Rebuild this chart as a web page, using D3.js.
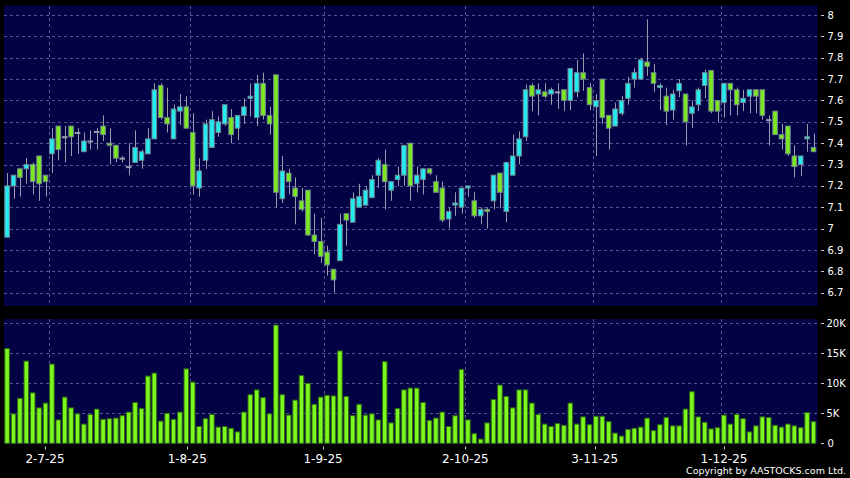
<!DOCTYPE html>
<html>
<head>
<meta charset="utf-8">
<script src="https://cdn.jsdelivr.net/npm/d3@7"></script>
<style>
  body { margin: 0; background: #000; }
  svg { display: block; }
  text { font-family: "DejaVu Sans", sans-serif; fill: #fff; }
</style>
</head>
<body>
<div id="chart"></div>
<script>
////////////////////////////////////////////////////////////////////////
// Data (daily candles, 20-6-25 .. 19-12-25)

let open = [6.96,7.20,7.28,7.28,7.30,7.34,7.25,7.35,7.48,7.43,7.48,7.45,7.36,7.41,7.455,7.48,7.40,7.39,7.33,7.29,
  7.31,7.32,7.35,7.42,7.67,7.52,7.42,7.55,7.57,7.45,7.19,7.32,7.38,7.45,7.49,7.52,7.47,7.53,7.61,7.52,
  7.68,7.53,7.72,7.14,7.26,7.19,7.13,7.18,6.97,6.94,6.89,6.81,6.85,7.07,7.03,7.10,7.11,7.145,7.25,7.30,
  7.18,7.23,7.25,7.40,7.21,7.23,7.28,7.22,7.19,7.045,7.11,7.10,7.19,7.13,7.06,7.09,7.13,7.26,7.08,7.25,
  7.34,7.43,7.67,7.63,7.64,7.63,7.64,7.65,7.60,7.64,7.73,7.66,7.57,7.70,7.53,7.48,7.54,7.61,7.70,7.70,
  7.78,7.73,7.66,7.62,7.555,7.645,7.63,7.54,7.58,7.67,7.74,7.60,7.59,7.68,7.65,7.59,7.62,7.65,7.65,7.51,
  7.55,7.44,7.48,7.34,7.30,7.42,7.38];
let high = [7.26,7.25,7.28,7.33,7.31,7.34,7.25,7.47,7.48,7.48,7.48,7.47,7.45,7.46,7.47,7.53,7.47,7.39,7.34,7.40,
  7.46,7.37,7.47,7.68,7.68,7.66,7.58,7.63,7.62,7.54,7.33,7.51,7.55,7.525,7.58,7.56,7.53,7.61,7.68,7.72,
  7.73,7.57,7.72,7.34,7.28,7.24,7.19,7.18,7.07,7.05,6.92,6.81,7.07,7.07,7.17,7.21,7.20,7.25,7.33,7.37,
  7.22,7.29,7.39,7.40,7.29,7.28,7.28,7.25,7.22,7.10,7.17,7.19,7.20,7.17,7.10,7.10,7.25,7.26,7.31,7.44,
  7.455,7.675,7.68,7.68,7.68,7.66,7.68,7.65,7.75,7.79,7.82,7.68,7.63,7.70,7.53,7.59,7.62,7.71,7.75,7.80,
  7.98,7.77,7.68,7.66,7.65,7.70,7.63,7.60,7.66,7.745,7.74,7.60,7.68,7.68,7.66,7.65,7.65,7.65,7.65,7.53,
  7.55,7.49,7.48,7.39,7.34,7.49,7.445];
let low = [6.96,7.14,7.15,7.21,7.16,7.13,7.15,7.26,7.32,7.31,7.34,7.35,7.36,7.37,7.37,7.41,7.30,7.31,7.31,7.25,
  7.31,7.28,7.35,7.42,7.51,7.45,7.42,7.485,7.47,7.16,7.15,7.28,7.38,7.43,7.48,7.40,7.415,7.49,7.525,7.48,
  7.51,7.44,7.10,7.12,7.16,7.02,7.08,6.965,6.88,6.84,6.78,6.70,6.85,6.92,7.03,7.10,7.11,7.145,7.19,7.09,
  7.13,7.20,7.20,7.13,7.17,7.16,7.25,7.17,7.03,7.00,7.06,7.07,7.15,7.05,7.02,7.00,7.09,7.095,7.03,7.25,
  7.30,7.41,7.55,7.53,7.61,7.58,7.56,7.55,7.555,7.615,7.645,7.555,7.34,7.49,7.37,7.48,7.53,7.58,7.66,7.70,
  7.715,7.64,7.555,7.485,7.51,7.615,7.39,7.47,7.55,7.61,7.54,7.50,7.52,7.53,7.53,7.55,7.54,7.54,7.51,7.39,
  7.44,7.37,7.34,7.24,7.245,7.36,7.36];
let close = [7.20,7.25,7.24,7.30,7.22,7.21,7.22,7.42,7.37,7.43,7.43,7.45,7.41,7.41,7.455,7.44,7.39,7.33,7.33,7.29,
  7.38,7.36,7.42,7.65,7.52,7.49,7.56,7.57,7.47,7.20,7.27,7.49,7.51,7.50,7.58,7.44,7.53,7.57,7.62,7.68,
  7.53,7.49,7.17,7.27,7.22,7.15,7.09,6.97,6.94,6.87,6.83,6.76,7.02,7.04,7.14,7.15,7.18,7.23,7.32,7.22,
  7.22,7.25,7.39,7.20,7.25,7.28,7.26,7.17,7.04,7.08,7.12,7.19,7.20,7.06,7.09,7.08,7.25,7.17,7.31,7.34,
  7.42,7.65,7.62,7.65,7.62,7.65,7.64,7.60,7.75,7.73,7.70,7.58,7.60,7.52,7.47,7.56,7.60,7.68,7.73,7.79,
  7.76,7.68,7.67,7.55,7.63,7.68,7.50,7.57,7.65,7.73,7.55,7.55,7.68,7.65,7.58,7.61,7.65,7.62,7.53,7.51,
  7.44,7.42,7.35,7.29,7.34,7.43,7.36];
let volume = [15800,4900,7500,13700,8400,5900,6700,13200,3900,7700,5900,4900,3200,4800,5700,4000,4100,4200,4600,5200,
  6800,5800,11200,11700,3700,5000,4000,5200,12400,10200,2800,4100,4800,2700,2800,2500,1900,5200,8100,8900,
  7600,4900,19700,8100,4700,7200,11300,10000,6500,7700,8000,7900,15400,7800,4600,6500,4700,4900,3900,13600,
  3400,5800,8900,9200,9200,6800,3800,4200,5200,2800,4600,12300,3900,1600,700,3400,7300,9700,7800,5900,
  8900,8900,6700,4800,3200,2800,3300,3000,6700,3200,4400,3100,4500,4500,3600,1700,1200,2300,2500,2700,
  4200,2100,3100,4300,2900,2900,5700,8600,4400,3500,2400,2600,4700,3200,4800,4100,1900,2900,4400,4300,
  3000,2700,3200,2900,2600,5100,3600];

// month-start labels: index of the first trading day in each month
let tickIndex = [7, 29, 50, 72, 92, 112];
let tickLabels = ["2-7-25", "1-8-25", "1-9-25", "2-10-25", "3-11-25", "1-12-25"];

let priceTicks = [8, 7.9, 7.8, 7.7, 7.6, 7.5, 7.4, 7.3, 7.2, 7.1, 7, 6.9, 6.8, 6.7];
let volTicks = [0, 5000, 10000, 15000, 20000];
let volTickLabels = ["0", "5K", "10K", "15K", "20K"];

////////////////////////////////////////////////////////////////////////
// Layout

let width = 850, height = 478;
let left = 3.9, right = 817.6;
let priceTop = 5.5, priceBottom = 306;
let volTop = 319, volBottom = 444;

let upColor = "#22ecf2", downColor = "#7de81f", edgeColor = "#6f8890";
let wickColor = "#9a9aae", gridColor = "#55559a", panelColor = "#020244";

let N = close.length;

let svg = d3.select("#chart").append("svg")
  .attr("width", width)
  .attr("height", height);

let xScale = d3.scaleBand()
  .domain(d3.range(N))
  .range([left, left + 6.4 * N])
  .paddingInner(0.16)
  .paddingOuter(0.08);
let cx = i => xScale(i) + xScale.bandwidth() / 2;
let boundary = i => cx(i) - xScale.step() / 2;
let barW = xScale.bandwidth() - 0.8;

// labels drift slightly against the candles in the original
let labelScale = d3.scaleLinear().domain([7, 112]).range([45, 724]);

let yPrice = d3.scaleLinear().domain([6.7, 8]).range([292.7, 15]);
let yVol = d3.scaleLinear().domain([0, 20000]).range([443.3, 323.3]);

// Panels
svg.append("rect").attr("x", left).attr("y", priceTop)
  .attr("width", right - left).attr("height", priceBottom - priceTop)
  .attr("fill", panelColor);
svg.append("rect").attr("x", left).attr("y", volTop)
  .attr("width", right - left).attr("height", volBottom - volTop)
  .attr("fill", panelColor);

// Grid lines
let grid = svg.append("g")
  .attr("stroke", gridColor)
  .attr("stroke-dasharray", "3,3")
  .attr("shape-rendering", "crispEdges");

grid.selectAll(".hp").data(priceTicks).join("line")
  .attr("x1", left).attr("x2", right)
  .attr("y1", d => Math.round(yPrice(d)) + 0.5)
  .attr("y2", d => Math.round(yPrice(d)) + 0.5);

grid.selectAll(".hv").data(volTicks.slice(1)).join("line")
  .attr("class", "hv")
  .attr("x1", left).attr("x2", right)
  .attr("y1", d => Math.round(yVol(d)) + 0.5)
  .attr("y2", d => Math.round(yVol(d)) + 0.5);

tickIndex.forEach(function(j) {
  let gx = Math.round(boundary(j)) + 0.5;
  grid.append("line").attr("x1", gx).attr("x2", gx).attr("y1", priceTop).attr("y2", priceBottom);
  grid.append("line").attr("x1", gx).attr("x2", gx).attr("y1", volTop).attr("y2", volBottom);
});

////////////////////////////////////////////////////////////////////////
// Candles

let candles = svg.append("g").attr("class", "candles");

candles.selectAll(".wick").data(d3.range(N)).join("line")
  .attr("class", "wick")
  .attr("x1", i => Math.round(cx(i)) + 0.5)
  .attr("x2", i => Math.round(cx(i)) + 0.5)
  .attr("y1", i => yPrice(high[i]))
  .attr("y2", i => yPrice(low[i]))
  .attr("stroke", wickColor)
  .attr("stroke-width", 1);

candles.selectAll(".body").data(d3.range(N)).join("rect")
  .attr("class", "body")
  .attr("x", i => cx(i) - barW / 2)
  .attr("width", barW)
  .attr("y", i => yPrice(Math.max(open[i], close[i])))
  .attr("height", i => Math.max(1, yPrice(Math.min(open[i], close[i])) - yPrice(Math.max(open[i], close[i]))))
  .attr("fill", i => close[i] > open[i] ? upColor : close[i] < open[i] ? downColor : wickColor)
  .attr("stroke", i => close[i] === open[i] ? wickColor : edgeColor)
  .attr("stroke-width", 1);

////////////////////////////////////////////////////////////////////////
// Volume bars

svg.append("g").selectAll("rect").data(d3.range(N)).join("rect")
  .attr("x", i => cx(i) - barW / 2)
  .attr("width", barW)
  .attr("y", i => yVol(volume[i]))
  .attr("height", i => yVol(0) - yVol(volume[i]))
  .attr("fill", "#7cf81e")
  .attr("stroke", "#2e6a12")
  .attr("stroke-width", 1);

////////////////////////////////////////////////////////////////////////
// Axes

let axisX = 821;
let pAxis = svg.append("g");
pAxis.selectAll("line").data(priceTicks).join("line")
  .attr("x1", axisX).attr("x2", axisX + 3)
  .attr("y1", d => Math.round(yPrice(d)) + 0.5)
  .attr("y2", d => Math.round(yPrice(d)) + 0.5)
  .attr("stroke", "#ccc");
pAxis.selectAll("text").data(priceTicks).join("text")
  .attr("x", axisX + 6.5)
  .attr("y", d => yPrice(d))
  .attr("dy", "0.36em")
  .style("font-size", "10px")
  .text(d => d3.format("~g")(d));

let vAxis = svg.append("g");
vAxis.selectAll("line").data(volTicks).join("line")
  .attr("x1", axisX).attr("x2", axisX + 3)
  .attr("y1", d => Math.round(yVol(d)) + 0.5)
  .attr("y2", d => Math.round(yVol(d)) + 0.5)
  .attr("stroke", "#ccc");
vAxis.selectAll("text").data(volTicks).join("text")
  .attr("x", (d, i) => axisX + (i === 0 ? 6.5 : 5.5))
  .attr("y", d => yVol(d))
  .attr("dy", "0.36em")
  .style("font-size", "10px")
  .text((d, i) => volTickLabels[i]);

let xAxis = svg.append("g");
xAxis.selectAll("line").data(tickIndex).join("line")
  .attr("x1", d => Math.round(labelScale(d)) + 0.5)
  .attr("x2", d => Math.round(labelScale(d)) + 0.5)
  .attr("y1", 446.5).attr("y2", 449.5)
  .attr("stroke", "#ccc");
xAxis.selectAll("text").data(tickIndex).join("text")
  .attr("x", d => labelScale(d))
  .attr("y", 462.5)
  .attr("text-anchor", "middle")
  .style("font-size", "12px")
  .text((d, i) => tickLabels[i]);

svg.append("text")
  .attr("x", 846).attr("y", 474)
  .attr("text-anchor", "end")
  .style("font-size", "9.5px")
  .text("Copyright by AASTOCKS.com Ltd.");
</script>
</body>
</html>
